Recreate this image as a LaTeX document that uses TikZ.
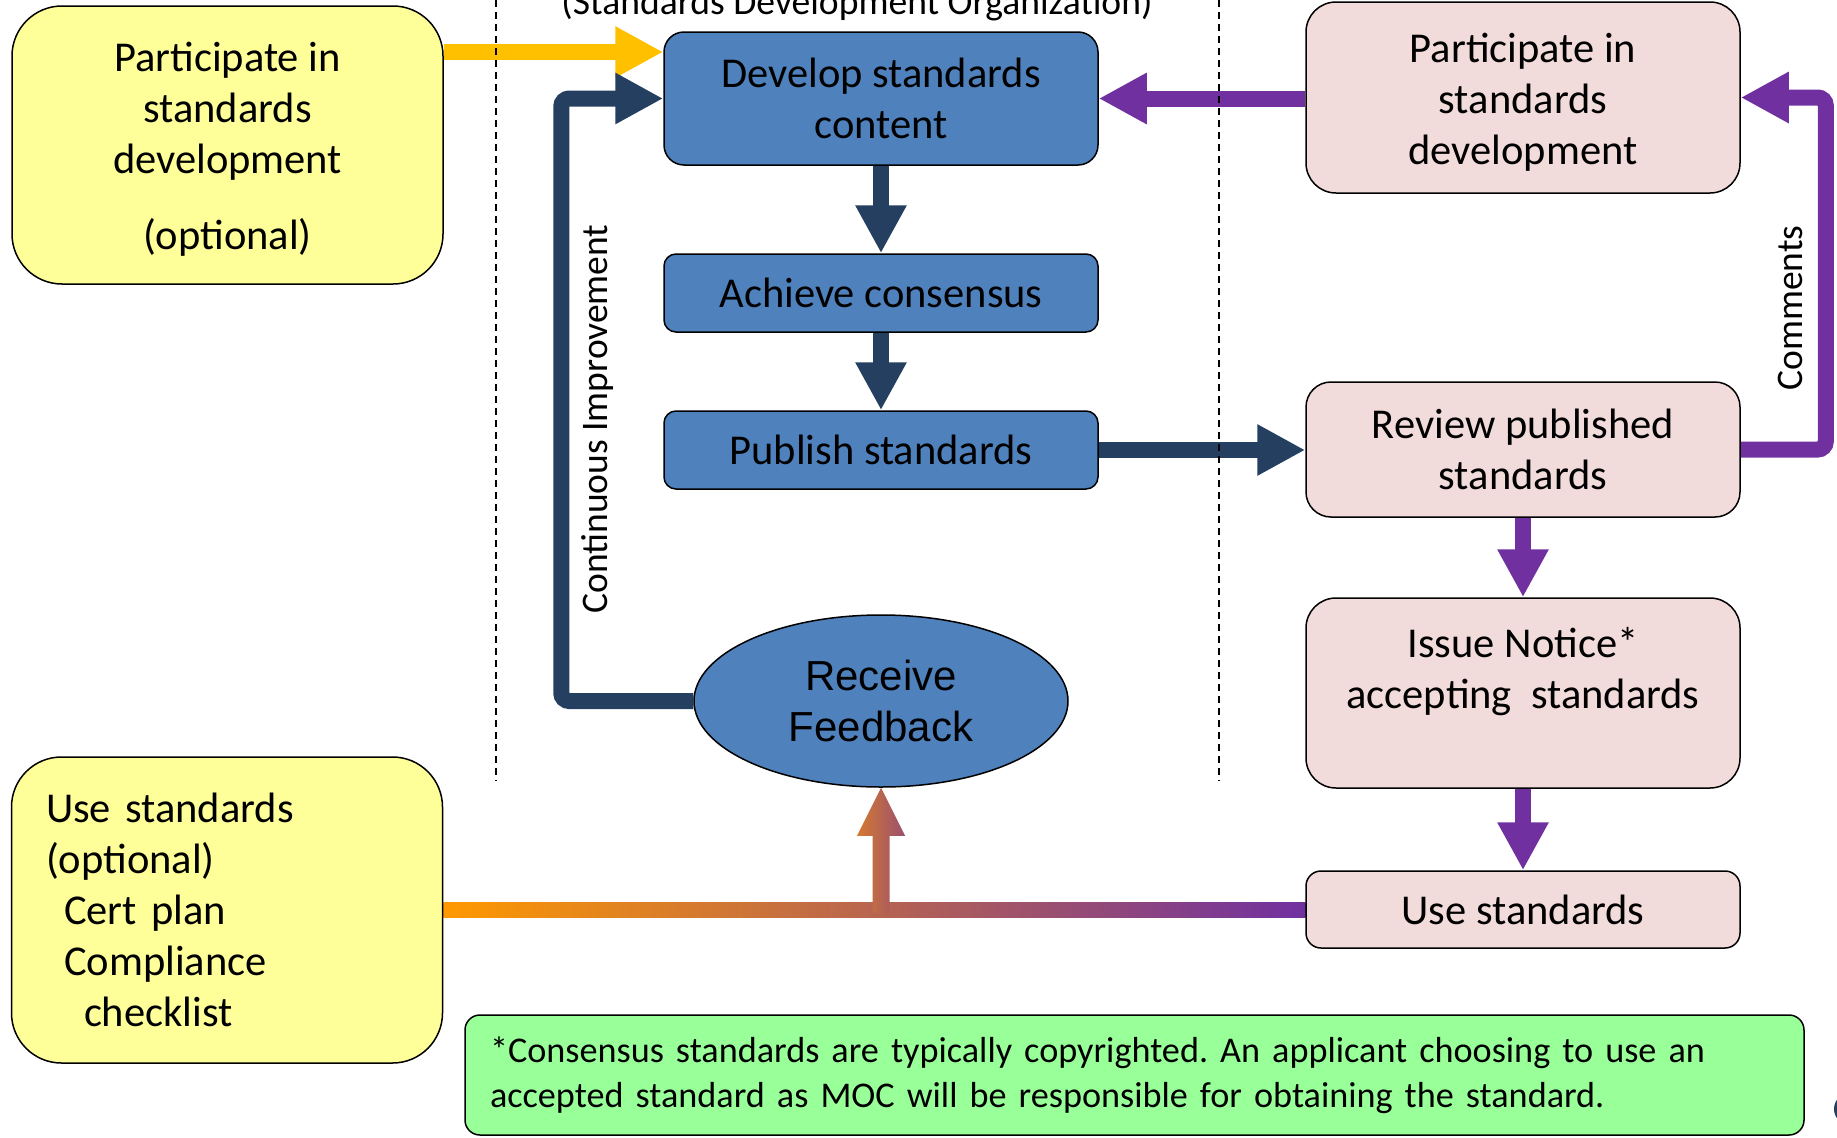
\documentclass[tikz,border=0pt]{standalone}
\usepackage{fontspec}
\setmainfont{Carlito}
\newfontfamily\arialfont{Liberation Sans}
\usetikzlibrary{arrows.meta,calc,shapes.geometric,backgrounds}
\frenchspacing
\definecolor{optyellow}{HTML}{FFFF99}
\definecolor{sdoblue}{HTML}{4F81BD}
\definecolor{sdonavy}{HTML}{243F60}
\definecolor{faapink}{HTML}{F2DCDB}
\definecolor{faapurple}{HTML}{7030A0}
\definecolor{partyellow}{HTML}{FFC000}
\definecolor{notegreen}{HTML}{99FF99}
\definecolor{useorange}{HTML}{FF9900}
\tikzset{
  boxtext/.style={align=center, inner sep=0pt, font=\fontsize{42.5}{51}\selectfont},
  box/.style={boxtext, draw=black, line width=1.5pt},
  sdobox/.style={box, fill=sdoblue, minimum width=434},
  faabox/.style={box, fill=faapink, minimum width=434},
  optbox/.style={box, fill=optyellow, rounded corners=50, minimum width=431},
  bigtip/.style={-{Triangle[width=48pt,length=48pt]}},
  navyflow/.style={bigtip, line width=16pt, draw=sdonavy},
  purpleflow/.style={bigtip, line width=16pt, draw=faapurple},
  yellowflow/.style={bigtip, line width=16pt, draw=partyellow},
  sidelabel/.style={rotate=90, font=\fontsize{37.5}{45}\selectfont}
}
\begin{document}
\begin{tikzpicture}[x=1pt,y=-1pt,line join=round]
\useasboundingbox (0,0) rectangle (1837,1138);
%%
  % Lanes
  \draw[line width=2pt, dash pattern=on 7pt off 5pt] (496,0) -- (496,781);
  \draw[line width=2pt, dash pattern=on 7pt off 5pt] (1219,0) -- (1219,781);
  \node[anchor=base, font=\fontsize{37.6}{45}\selectfont] (sdotitle) at (857,14) {(Standards Development Organization)};
  % Node: optional participation
  \node[optbox, minimum height=278] (partA) at (227.5,145) {};
  \node[boxtext] (partAtext) at ($(partA)+(0,4.5)$)
    {Participate in\\standards\\development\\[25pt](optional)};
  % Node: optional use
  \node[optbox, minimum height=306, text width=362, align=left] (useA) at (227,910)
    {Use standards\\(optional)\\\hspace*{18pt}Cert plan\\\hspace*{18pt}Compliance\\\hspace*{38pt}checklist};
  % Node: SDO steps
  \node[sdobox, rounded corners=20, minimum height=133] (develop) at (881,98.5) {Develop standards\\content};
  \node[sdobox, rounded corners=12, minimum height=78] (consensus) at (881,293) {Achieve consensus};
  \node[sdobox, rounded corners=12, minimum height=78] (publish) at (881,450) {Publish standards};
  \node[ellipse, draw=black, line width=1.5pt, fill=sdoblue, inner sep=0pt,
    minimum width=374, minimum height=172, align=center,
    font=\arialfont\fontsize{42}{51}\selectfont] (feedback) at (881,701) {Receive\\Feedback};
  % Node: FAA steps
  \node[faabox, rounded corners=30, minimum height=191] (partB) at (1523,97.5) {};
  \node[boxtext] (partBtext) at ($(partB)+(0,5)$) {Participate in\\standards\\development};
  \node[faabox, rounded corners=25, minimum height=135] (review) at (1523,449.5) {Review published\\standards};
  \node[faabox, rounded corners=30, minimum height=190] (notice) at (1523,693) {Issue Notice*\\accepting\ \ standards\\[0pt]\mbox{}};
  \node[faabox, rounded corners=15, minimum height=77] (useB) at (1523,909.5) {Use standards};
  % Node: footnote
  \node[box, fill=notegreen, rounded corners=15, minimum width=1339, minimum height=120,
    text width=1289, align=left, font=\fontsize{36.2}{44.5}\selectfont] (note) at (1134.5,1075)
    {*Consensus standards are typically copyrighted. An applicant choosing to use an\\accepted standard as MOC will be responsible for obtaining the standard.};
  \fill[sdonavy] (1850,1109) circle (16);
%%
\begin{scope}[on background layer]
  % Edge: partA -> develop
  \coordinate (yin) at ($(develop.west)+(0,-46.5)$);
  \draw[yellowflow] (partA.east |- yin) -- (yin);
  % Edge: develop -> consensus -> publish
  \draw[navyflow] (develop.south) -- (consensus.north);
  \draw[navyflow] (consensus.south) -- (publish.north);
  % Edge: publish -> review
  \draw[navyflow] (publish.east) -- (publish.east -| review.west);
  % Edge: feedback -> develop
  \draw[navyflow, rounded corners=8] (feedback.west) -- ++(-132,0) |- (develop.west);
  \node[sidelabel] (improve) at (597.5,419) {Continuous Improvement};
  % Edge: partB -> develop
  \draw[purpleflow] (partB.west |- develop.east) -- (develop.east);
  % Edge: review -> partB
  \draw[purpleflow, rounded corners=8] (review.east) -- ++(85,0) |- (partB.east);
  \node[sidelabel] (comments) at (1790,308) {Comments};
  % Edge: review -> notice -> useB
  \draw[purpleflow] (review.south) -- (notice.north);
  \draw[purpleflow] (notice.south) -- (useB.north);
  % Edge: useA, useB -> feedback
  \shade[left color=useorange, right color=faapurple]
    ($(useA.east)+(0,-8)$) rectangle ($(useB.west)+(0,8)$);
  \coordinate (join) at ($(feedback.south |- useB.west)+(0,3.5)$);
  \shade[left color=useorange!70!faapurple, right color=useorange!30!faapurple]
    (feedback.south) -- ++(24,48) -- ++(-15.5,0) -- ($(join)+(8.5,0)$)
    -- ($(join)+(-8.5,0)$) -- ($(feedback.south)+(-8.5,48)$) -- ++(-15.5,0) -- cycle;
\end{scope}
%
\end{tikzpicture}
\end{document}
